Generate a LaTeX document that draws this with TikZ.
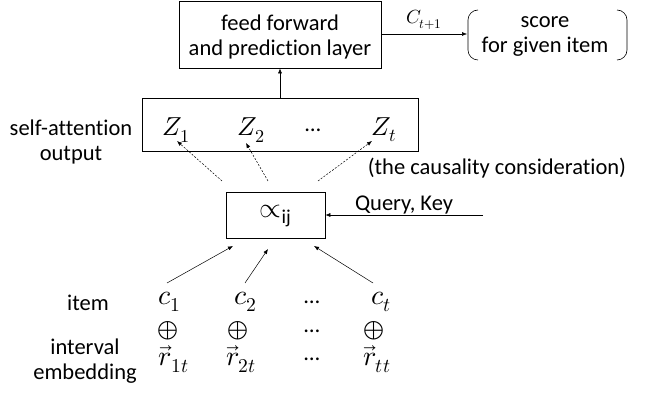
\documentclass[tikz,border=0pt]{standalone}
\usepackage{fontspec}
\usepackage{unicode-math}
\setmainfont{Carlito}[Ligatures=NoCommon]
\usetikzlibrary{arrows.meta}
\begin{document}
\begin{tikzpicture}[x=1pt,y=-1pt,
  every node/.style={font=\fontsize{22.5}{25}\selectfont, inner sep=0pt, align=center},
  box/.style={draw, line width=0.8pt},
  arr/.style={-{Latex[length=5pt,width=4pt]}, line width=0.5pt},
  darr/.style={arr, dashed, dash pattern=on 2pt off 1.5pt},
  zlbl/.style={font=\fontsize{26}{26}\selectfont},
  clbl/.style={font=\fontsize{28}{28}\selectfont},
  oplbl/.style={font=\fontsize{27}{27}\selectfont}]
\useasboundingbox (0,0) rectangle (654,395);
% top box
\node[box, minimum width=202pt, minimum height=67pt] (ff) at (280,34.5) {};
\node (fftxt) at (280,37) {feed forward\\and prediction layer};
\node (score) at (545,36) {score\\for given item};
\draw[line width=0.6pt] (478,10) arc[start angle=90,end angle=180,radius=10pt] -- (468,50) arc[start angle=180,end angle=270,radius=10pt];
\draw[line width=0.6pt] (617,10) arc[start angle=90,end angle=0,radius=10pt] -- (627,50) arc[start angle=0,end angle=-90,radius=10pt];
\coordinate (scoreL) at (467,34);
\draw[arr] (ff.east |- scoreL) -- node[above=4pt, font=\fontsize{19}{19}\selectfont] {$C_{t+1}$} (scoreL);
% Z box
\node[box, minimum width=276pt, minimum height=53pt] (zbox) at (280,124.5) {};
\draw[arr] (zbox.north) -- (ff.south);
\node[zlbl] (z1) at (176,130) {$Z_1$};
\node[zlbl] (z2) at (251,130) {$Z_2$};
\node (zd) at (313,130) {\ldots};
\node[zlbl] (zt) at (384,130) {$Z_t$};
\node (sao) at (71,142) {self-attention\\output};
\node (caus) at (497,168) {(the causality consideration)};
% alpha box
\node[box, minimum width=99pt, minimum height=46pt] (alpha) at (275.5,215) {};
\node[font=\fontsize{28}{28}\selectfont] (alphatxt) at (275.5,216) {$\propto_{\text{ij}}$};
\coordinate (a1) at (222,181);
\coordinate (a2) at (268,181);
\coordinate (a3) at (318,181);
\coordinate (z1t) at (177,141);
\coordinate (z2t) at (246,143);
\coordinate (ztt) at (372,141);
\draw[darr] (a1) -- (z1t);
\draw[darr] (a2) -- (z2t);
\draw[darr] (a3) -- (ztt);
\coordinate (qk) at (483,215);
\draw[arr] (qk) -- (alpha.east);
\node (qkl) at (404,205) {Query, Key};
% bottom
\node (item) at (88,303) {item};
\node (iv) at (85,361) {interval\\embedding};
\node[clbl] (c1) at (170,302) {$c_1$};
\node[clbl] (c2) at (246,302) {$c_2$};
\node (cd) at (312,302) {\ldots};
\node[clbl] (ct) at (381,302) {$c_t$};
\node[oplbl] (p1) at (168,331) {$\oplus$};
\node[oplbl] (p2) at (238,331) {$\oplus$};
\node (pd) at (312,331) {\ldots};
\node[oplbl] (pt) at (374,331) {$\oplus$};
\node[clbl] (r1) at (174,359) {$\vec{r}_{1t}$};
\node[clbl] (r2) at (241,359) {$\vec{r}_{2t}$};
\node (rd) at (312,359) {\ldots};
\node[clbl] (rt) at (377,359) {$\vec{r}_{tt}$};
\coordinate (b1) at (167,283);
\coordinate (b2) at (245,283);
\coordinate (b3) at (373,283);
\coordinate (t1) at (233,246);
\coordinate (t2) at (268,249);
\coordinate (t3) at (314,246);
\draw[arr] (b1) -- (t1);
\draw[arr] (b2) -- (t2);
\draw[arr] (b3) -- (t3);
\end{tikzpicture}
\end{document}
